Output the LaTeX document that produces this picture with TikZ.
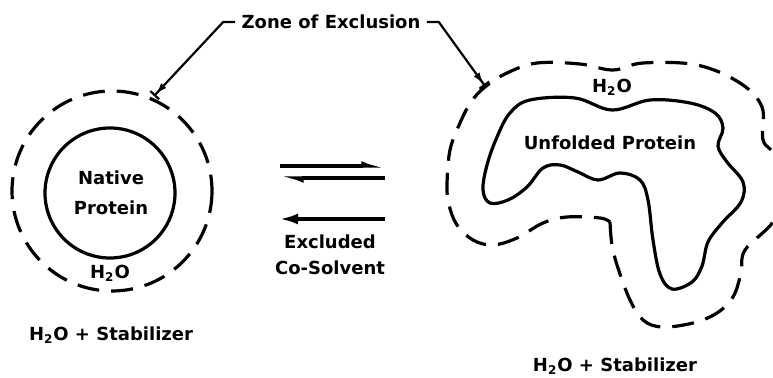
\documentclass[tikz,border=0pt]{standalone}
\usepackage{fontspec}
\setmainfont{DejaVu Sans}
\usetikzlibrary{arrows.meta}
\begin{document}
\begin{tikzpicture}[x=0.5pt,y=-0.5pt,
  lbl/.style={font=\fontsize{9}{15}\selectfont\bfseries, inner sep=3pt, align=center},
  solidline/.style={line width=1.6pt},
  zoneline/.style={line width=1.6pt, dash pattern=on 11pt off 6pt},
  leader/.style={line width=1.1pt, -{Latex[length=6pt,width=3.5pt] Bar[width=6pt]}},
  eqline/.style={line width=1.6pt},
  halfhead/.style={-{Latex[left,length=8pt,width=5pt]}},
  fullhead/.style={-{Latex[length=9pt,width=5.5pt]}}
]
\useasboundingbox (0,0) rectangle (773,378);
\clip (0,0) rectangle (773,378);

% texts
\node[lbl] (zone) at (331,22) {Zone of Exclusion};
\node[lbl] (nat) at (111,193) {Native\\Protein};
\node[lbl] (h2oL) at (110,273) {H\textsubscript{2}O};
\node[lbl] (stabL) at (111,335) {H\textsubscript{2}O + Stabilizer};
\node[lbl, font=\fontsize{9}{13}\selectfont\bfseries] (excl) at (330,255) {Excluded\\Co-Solvent};
\node[lbl] (h2oR) at (612,87) {H\textsubscript{2}O};
\node[lbl] (unf) at (610,143) {Unfolded Protein};
\node[lbl] (stabR) at (615,366) {H\textsubscript{2}O + Stabilizer};

% native protein
\draw[solidline] (110,193) circle[radius=65];
\draw[zoneline] (112,191) circle[radius=100];

% unfolded protein
\draw[solidline] plot[smooth cycle, tension=0.6] coordinates {
 (530,100) (575,98) (612,110) (650,100) (690,103) (715,113) (723,128) (718,146)
 (727,162) (743,182) (741,202) (722,223) (708,242) (702,266) (692,282) (672,289)
 (660,274) (653,240) (648,200) (640,180) (620,173) (598,180) (578,172) (560,165)
 (543,168) (527,187) (508,200) (490,203) (483,190) (487,165) (497,137) (510,113)};
\draw[zoneline] plot[smooth, tension=0.6] coordinates {
 (610,222) (612,245) (618,268) (630,300) (643,320) (662,327) (693,323) (717,313)
 (733,297) (741,273) (745,250) (773,222) (787,188) (775,155) (763,140) (762,107)
 (740,83) (697,65) (643,63) (613,70) (580,64) (537,63) (507,73) (485,87) (471,102)
 (460,123) (450,150) (447,185) (449,205) (457,225) (473,240) (493,245) (517,238)
 (543,223) (567,217) (600,218) (610,222)};

% leaders
\coordinate (ltip) at (154,96);
\coordinate (rtip) at (485,86);
\draw[leader] (zone.west) -- ++(-12,0) -- (ltip);
\draw[leader] (zone.east) -- ++(12,0) -- (rtip);

% equilibrium arrows
\coordinate (e1l) at (280,166);
\coordinate (e1r) at (385,166);
\coordinate (e2l) at (280,178);
\coordinate (e2r) at (385,178);
\coordinate (e3l) at (280,219);
\coordinate (e3r) at (385,219);
\draw[eqline, halfhead] (e1l) -- (e1r);
\draw[eqline, halfhead] (e2r) -- (e2l);
\draw[eqline, fullhead] (e3r) -- (e3l);
\end{tikzpicture}
\end{document}
